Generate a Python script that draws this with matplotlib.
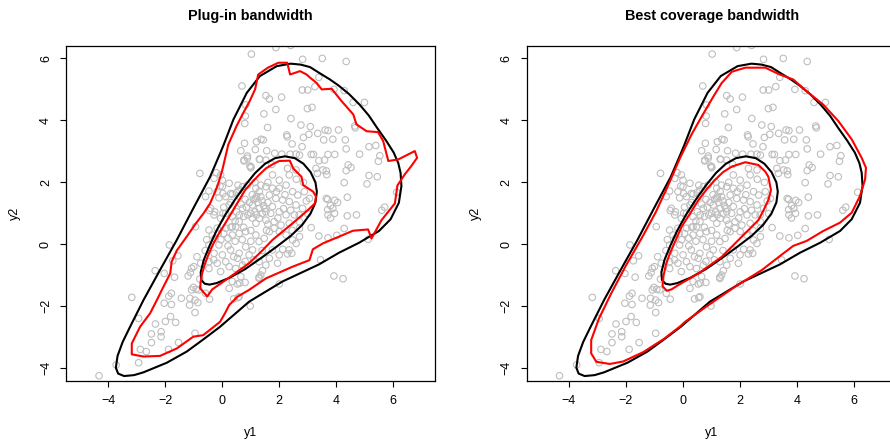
import numpy as np
import matplotlib
matplotlib.use("Agg")
import matplotlib.pyplot as plt
from matplotlib.patches import Polygon

plt.rcParams["font.family"] = ["Liberation Sans", "DejaVu Sans"]

pts_upper = [
    (1.02, 6.14), (1.88, 6.35), (2.4, 6.42), (3.51, 6.0), (4.35, 5.9), (2.82, 5.97),
    (0.69, 5.11), (1.53, 4.8), (1.65, 4.69), (2.08, 4.75), (2.81, 4.98), (3.0, 4.98),
    (3.25, 5.09), (3.39, 5.39), (3.92, 5.0), (4.28, 4.96), (4.99, 4.58), (4.59, 4.58),
    (1.88, 4.35), (2.41, 4.06), (2.99, 4.38), (3.15, 4.42), (0.81, 4.14), (0.79, 3.9),
    (0.82, 4.5), (1.46, 4.21), (1.59, 3.77), (2.76, 3.85), (3.09, 3.8), (3.61, 3.69),
    (3.71, 3.67), (4.08, 3.69), (4.65, 3.82), (4.67, 3.76), (3.35, 3.58), (2.26, 3.53),
    (2.28, 3.47), (2.85, 3.45), (3.04, 3.55), (3.56, 3.37), (3.88, 3.39), (4.32, 3.37),
    (1.36, 3.39), (1.44, 3.37), (1.2, 3.31), (0.78, 3.26), (2.45, 3.24), (2.8, 3.15),
    (4.35, 3.08), (5.15, 3.15), (5.39, 3.19), (1.16, 3.06), (1.56, 3.02), (0.65, 3.02),
    (0.88, 2.85), (1.84, 2.94), (2.09, 2.91), (2.38, 2.91), (2.59, 2.91), (2.71, 2.88),
    (3.12, 2.9), (3.2, 2.9), (3.71, 2.9), (3.95, 2.9), (4.82, 2.91), (5.53, 2.86),
    (0.76, 2.69), (1.32, 2.74), (1.0, 2.5), (0.97, 2.53), (3.59, 2.72), (3.39, 2.7),
    (5.48, 2.68), (4.42, 2.56), (4.52, 2.48), (4.35, 2.38), (5.15, 2.22), (5.44, 2.18),
    (3.53, 2.4), (3.65, 2.37), (3.67, 2.25), (3.34, 2.29), (-0.79, 2.29), (-0.21, 2.31),
    (4.28, 1.99), (5.08, 1.95), (0.24, 1.97), (0.55, 1.91), (-0.08, 1.88), (0.02, 1.64),
    (0.35, 1.62), (0.49, 1.67), (6.12, 1.68), (4.39, 1.52), (3.7, 1.45), (3.95, 1.42),
    (4.05, 1.35), (3.8, 1.25), (3.7, 1.12), (5.7, 1.2), (5.6, 1.1), (4.71, 0.95),
    (4.39, 0.92), (3.94, 1.0), (3.8, 0.85), (4.28, 0.51), (3.39, 0.27), (3.71, 0.21),
    (4.02, 0.29), (5.12, 0.16), (-0.45, 1.09), (-0.27, 1.05), (0.02, 1.0), (-0.14, 0.35),
    (-0.26, 0.19),
]

pts_lower = [
    (-1.86, -0.02), (-1.56, -0.37), (-1.74, -0.53), (-0.89, -0.4), (-1.08, -0.77),
    (-1.12, -0.91), (-1.2, -1.02), (-1.68, -1.06), (-2.36, -0.85), (-2.04, -0.94),
    (-0.79, -1.12), (-1.08, -1.47), (-1.02, -1.39), (-0.92, -1.45), (-0.59, -1.58),
    (-0.45, -1.77), (-0.96, -1.8), (-0.86, -1.88), (-1.14, -1.74), (-1.44, -1.74),
    (-1.79, -1.58), (-1.88, -1.67), (-3.18, -1.71), (-2.04, -1.9), (-1.79, -1.94),
    (-1.15, -1.96), (-0.96, -2.2), (-1.82, -2.33), (-2.0, -2.49), (-1.64, -2.52),
    (-2.35, -2.57), (-2.94, -2.39), (-2.15, -2.82), (-2.15, -2.98), (-2.49, -2.89),
    (-2.49, -3.17), (-0.96, -2.87), (-1.54, -3.17), (-1.89, -3.39), (-2.88, -3.39),
    (-2.67, -3.46), (-2.94, -3.82), (-3.73, -3.89), (-4.33, -4.24),
    (0.53, -1.28), (0.61, -1.25), (0.8, -1.23), (0.98, -1.99), (1.29, -1.06),
    (1.41, -0.85), (3.92, -1.02), (4.24, -1.11), (3.45, -0.5), (2.44, -0.29),
    (2.29, -0.31), (2.12, -0.16), (0.4, -1.76), (0.55, -1.72), (2.0, -1.28),
]

pts_core = [
    (0.76, 2.72), (0.88, 2.78), (1.3, 2.75), (1.53, 2.72), (1.0, 2.47), (1.74, 2.58),
    (-0.06, 2.24), (-0.29, 2.13), (0.0, 2.07), (0.0, 1.86), (-0.47, 1.72), (-0.18, 1.7),
    (0.29, 1.64), (0.12, 1.54), (-0.12, 1.5), (0.59, 1.75), (0.88, 1.91), (0.71, 1.86),
    (1.18, 1.81), (1.35, 1.91), (1.53, 1.86), (1.76, 1.81), (2.0, 1.81), (2.24, 1.91),
    (2.35, 2.24), (2.29, 2.45), (2.59, 2.4), (1.76, 2.24), (2.0, 2.07), (2.47, 1.7),
    (2.65, 1.59), (2.88, 1.7), (3.06, 1.48), (3.29, 2.45), (3.65, 1.48), (3.88, 1.16),
    (3.71, 0.95), (1.18, 1.48), (1.35, 1.54), (1.65, 1.59), (1.88, 1.48), (2.12, 1.43),
    (2.35, 1.38), (2.59, 1.27), (2.82, 1.16), (3.0, 0.99), (1.06, 1.27), (1.3, 1.16),
    (1.53, 1.05), (1.76, 1.22), (2.0, 1.05), (2.24, 0.95), (2.53, 0.95), (2.71, 0.73),
    (1.3, 0.84), (1.53, 0.78), (1.82, 0.73), (2.06, 0.62), (2.35, 0.68), (1.0, 1.0),
    (1.18, 0.68), (0.59, 0.73), (0.35, 0.89), (0.12, 1.0), (-0.06, 0.84), (-0.29, 0.95),
    (-0.41, 1.16), (-0.59, 1.54), (0.24, 1.27), (0.71, 1.16), (0.47, 0.57),
    (-0.94, 0.57), (-0.47, 0.46), (-0.35, 0.3), (-0.18, 0.52), (0.12, 0.52), (0.35, 0.57),
    (0.59, 0.35), (0.82, 0.41), (1.18, 0.3), (1.29, 0.09), (1.47, 0.19), (1.65, 0.41),
    (1.82, 0.52), (2.0, 0.41), (2.24, 0.3), (2.47, 0.14), (2.59, 0.03), (2.71, 0.25),
    (2.71, 0.52), (3.12, 0.54), (2.35, -0.18), (2.0, -0.34), (1.76, -0.18), (1.65, -0.45),
    (1.29, -0.56), (1.35, -0.99), (0.65, -1.04), (0.35, -1.2), (0.24, -1.42), (0.59, -1.69),
    (-0.82, -1.47), (-1.0, -0.72), (-0.76, -0.61), (-0.47, -0.02), (-0.12, -0.02),
    (-0.29, -0.29), (0.0, -0.34), (-0.47, -0.56), (-0.18, -0.61), (0.12, -0.56),
    (0.24, -0.72), (0.53, -0.45), (0.59, -0.29), (0.29, -0.18), (0.82, -0.08),
    (0.94, -0.34), (1.06, -0.18), (-0.06, -0.88), (0.47, -0.78), (0.71, -0.67),
    (-0.47, -0.78), (1.53, -0.67), (1.94, -0.61), (1.29, -1.1),
    (1.1, 1.45), (1.2, 1.55), (1.25, 1.35), (1.4, 1.4), (1.45, 1.25), (0.95, 1.35),
    (0.85, 1.2), (0.9, 0.95), (1.05, 0.85), (1.15, 1.05), (1.4, 1.0), (1.6, 1.35),
    (1.7, 1.0), (0.75, 0.9), (0.65, 1.3), (0.5, 1.05), (0.45, 0.75), (0.3, 0.55),
    (0.75, 0.55), (1.0, 0.45), (1.55, 0.45), (1.95, 0.85), (2.15, 1.15), (1.9, 1.7),
    (1.6, 2.0), (2.4, 1.1), (0.2, 0.2), (0.45, 0.1), (0.7, 0.15), (1.0, 0.1),
    (1.4, -0.2), (0.2, -0.05), (-0.05, 0.15), (0.05, 0.35), (1.15, 2.0), (2.6, 2.1),
    (2.85, 2.0), (2.95, 1.4), (2.2, 1.6), (2.45, 0.45), (1.1, -0.5), (0.8, -0.55),
    (0.4, -0.4), (-0.3, -0.5), (-0.6, -0.2), (-0.55, 0.15), (0.6, 1.55), (0.3, 1.35),
    (0.05, 1.2), (2.7, 0.95), (1.05, 1.6), (1.3, 1.7), (0.8, 1.45), (1.5, 1.15),
    (1.2, 0.95), (0.6, 0.95), (0.35, 0.3), (1.6, 0.65),
]

# true density contours (black), same in both panels
true_outer = [
    (-3.45, -4.25), (-3.66, -4.17), (-3.74, -3.98), (-3.68, -3.6), (-3.5, -3.15),
    (-3.24, -2.66), (-2.77, -1.8), (-2.19, -0.83), (-1.6, 0.14), (-1.02, 1.16),
    (-0.43, 2.18), (-0.08, 2.93), (0.05, 3.22), (0.39, 4.03), (0.86, 4.89), (1.32, 5.43),
    (1.91, 5.75), (2.4, 5.83), (2.75, 5.8), (3.08, 5.72), (3.39, 5.54), (3.78, 5.32),
    (4.09, 5.12), (4.45, 4.85), (4.83, 4.5), (5.15, 4.15), (5.45, 3.74), (5.75, 3.35),
    (6.02, 2.96), (6.18, 2.62), (6.26, 2.31), (6.29, 1.88), (6.2, 1.34), (5.91, 0.81),
    (5.5, 0.43), (4.8, 0.05), (4.1, -0.27), (3.39, -0.65), (2.11, -1.2), (0.94, -1.85),
    (0.5, -2.2), (-0.08, -2.66), (-0.67, -3.07), (-1.25, -3.46), (-1.95, -3.82),
    (-2.77, -4.13), (-3.1, -4.22),
]
true_inner = [
    (-0.62, -1.27), (-0.74, -1.15), (-0.76, -0.9), (-0.65, -0.5), (-0.45, -0.05),
    (-0.2, 0.45), (0.1, 0.95), (0.45, 1.45), (0.8, 1.9), (1.15, 2.3), (1.5, 2.6),
    (1.85, 2.78), (2.2, 2.84), (2.55, 2.78), (2.85, 2.6), (3.1, 2.33), (3.27, 2.0),
    (3.32, 1.7), (3.27, 1.35), (3.1, 1.0), (2.8, 0.62), (2.4, 0.27), (1.9, -0.08),
    (1.35, -0.45), (0.8, -0.8), (0.25, -1.08), (-0.2, -1.25), (-0.45, -1.3),
]

# plug-in bandwidth estimate (red, left panel)
plugin_outer = [
    (-3.18, -3.55), (-3.18, -3.2), (-2.89, -2.66), (-2.54, -2.23), (-2.3, -1.8),
    (-2.07, -1.37), (-1.83, -0.94), (-1.78, -0.56), (-1.6, -0.2), (-1.25, 0.25),
    (-0.95, 0.65), (-0.66, 1.0), (-0.43, 1.32), (-0.25, 1.7), (-0.14, 1.97), (0.0, 2.4),
    (0.21, 3.22), (0.5, 3.82), (0.74, 4.25), (0.95, 4.6), (1.15, 5.0), (1.26, 5.48),
    (1.6, 5.7), (1.97, 5.86), (2.28, 5.86), (2.38, 5.48), (2.73, 5.59), (2.96, 5.48),
    (3.08, 5.38), (3.31, 5.21), (3.49, 5.0), (3.84, 5.02), (4.19, 4.62), (4.6, 4.19),
    (4.71, 3.87), (5.07, 3.65), (5.47, 3.62), (5.65, 3.33), (5.83, 2.69), (6.18, 2.74),
    (6.76, 3.01), (6.84, 2.79), (6.64, 2.53), (6.41, 2.26), (6.15, 1.9), (6.06, 1.32),
    (5.59, 0.78), (5.24, 0.19), (5.12, 0.48), (4.59, 0.44), (4.0, 0.21), (3.53, 0.03),
    (3.18, -0.16), (3.06, -0.51), (2.47, -0.72), (1.53, -1.1), (0.94, -1.47),
    (0.53, -1.69), (0.24, -1.96), (0.09, -2.23), (-0.08, -2.5), (-0.67, -2.93),
    (-1.02, -2.98), (-1.6, -3.36), (-2.19, -3.6), (-2.77, -3.62),
]
plugin_inner = [
    (-0.53, -1.68), (-0.78, -1.42), (-0.76, -1.2), (-0.71, -0.94), (-0.6, -0.6),
    (-0.47, -0.29), (-0.3, 0.05), (-0.12, 0.35), (0.05, 0.6), (0.24, 0.89), (0.59, 1.43),
    (0.8, 1.75), (1.06, 2.02), (1.3, 2.25), (1.53, 2.45), (1.8, 2.6), (2.0, 2.69),
    (2.37, 2.7), (2.49, 2.45), (2.78, 2.18), (2.84, 1.91), (3.19, 1.7), (3.29, 1.54),
    (3.25, 1.32), (3.0, 1.1), (2.47, 0.68), (2.1, 0.4), (1.76, 0.14), (1.35, -0.25),
    (0.94, -0.61), (0.5, -0.9), (0.12, -1.15), (-0.35, -1.45),
]

# best coverage bandwidth estimate (red, right panel)
best_outer = [
    (-3.04, -3.79), (-3.22, -3.52), (-3.22, -3.09), (-2.95, -2.4), (-2.5, -1.55),
    (-2.0, -0.68), (-1.45, 0.2), (-0.95, 1.05), (-0.5, 1.95), (-0.1, 2.8), (0.3, 3.55),
    (0.7, 4.2), (1.05, 4.75), (1.35, 5.2), (1.71, 5.57), (2.18, 5.7), (2.88, 5.7),
    (3.39, 5.48), (3.86, 5.32), (4.33, 4.94), (4.91, 4.51), (5.44, 3.98), (5.91, 3.39),
    (6.26, 2.79), (6.41, 2.47), (6.38, 2.1), (6.2, 1.56), (5.91, 1.02), (5.5, 0.7),
    (4.91, 0.43), (4.33, 0.11), (3.86, -0.05), (3.39, -0.38), (2.76, -0.83),
    (1.82, -1.37), (0.89, -1.96), (0.07, -2.5), (-0.12, -2.66), (-0.67, -3.05),
    (-1.4, -3.48), (-2.1, -3.78), (-2.57, -3.86),
]
best_inner = [
    (-0.57, -1.5), (-0.72, -1.35), (-0.69, -1.04), (-0.6, -0.65), (-0.46, -0.29),
    (-0.25, 0.15), (-0.05, 0.57), (0.25, 1.0), (0.54, 1.43), (0.85, 1.8), (1.12, 2.08),
    (1.4, 2.33), (1.71, 2.51), (2.18, 2.65), (2.64, 2.56), (2.88, 2.35), (2.99, 2.18),
    (3.08, 1.75), (2.99, 1.43), (2.82, 1.1), (2.64, 0.78), (2.06, 0.25), (1.36, -0.4),
    (0.54, -0.94), (-0.16, -1.31), (-0.4, -1.45),
]

titles = ["Plug-in bandwidth", "Best coverage bandwidth"]
xticks = [-4, -2, 0, 2, 4, 6]
yticks = [-4, -2, 0, 2, 4, 6]

obs = np.array(pts_upper + pts_lower + pts_core)

W, H = 890, 441
fig = plt.figure(figsize=(W / 100, H / 100), dpi=100)

boxes = [(66.3, 435.3), (526.7, 896.5)]
top, bottom = 46.0, 380.7


def draw_panel(ax, title, red_curves, x0, x1):
    ax.scatter(obs[:, 0], obs[:, 1], s=22, facecolors="none",
               edgecolors="#bebebe", linewidths=0.8, zorder=1)
    for c in (true_outer, true_inner):
        ax.add_patch(Polygon(c, closed=True, fill=False, ec="black", lw=1.5,
                             joinstyle="round", zorder=3))
    for c in red_curves:
        ax.add_patch(Polygon(c, closed=True, fill=False, ec="#ff0000", lw=1.5,
                             joinstyle="round", zorder=4))
    ax.set_xlim(-5.48, 7.48)
    ax.set_ylim(-4.4, 6.4)
    ax.set_xticks(xticks)
    ax.set_yticks(yticks)
    ax.tick_params(direction="out", length=4.3, width=0.8, pad=6, labelsize=9,
                   colors="black")
    for lbl in ax.get_yticklabels():
        lbl.set_rotation(90)
        lbl.set_va("center")
    for sp in ax.spines.values():
        sp.set_linewidth(0.9)
    cx = (x0 + x1) / 2
    fig.text(cx / W, 1 - 16 / H, title, ha="center", va="center",
             fontsize=10.4, fontweight="bold")
    fig.text(cx / W, 1 - 433 / H, "y1", ha="center", va="center", fontsize=9)
    fig.text((x0 - 51) / W, 1 - 213.3 / H, "y2", ha="center", va="center",
             fontsize=9, rotation=90)


for (x0, x1), title, reds in zip(boxes, titles,
                                 [(plugin_outer, plugin_inner), (best_outer, best_inner)]):
    ax = fig.add_axes([x0 / W, 1 - bottom / H, (x1 - x0) / W, (bottom - top) / H])
    draw_panel(ax, title, reds, x0, x1)

fig.savefig("out.png", dpi=100)
